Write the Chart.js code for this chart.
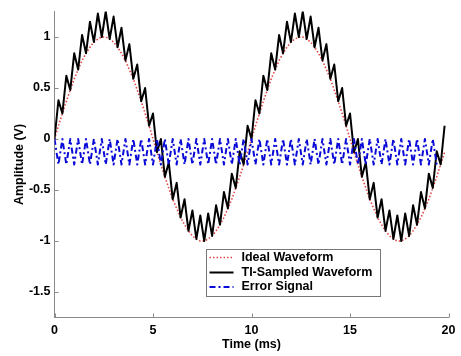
<!DOCTYPE html>
<html>
<head>
<meta charset="utf-8">
<script src="https://cdn.jsdelivr.net/npm/chart.js@4.4.1/dist/chart.umd.min.js"></script>
<style>
html,body{margin:0;padding:0;background:#fff;}
#c{display:block;}
</style>
</head>
<body>
<canvas id="c" width="461" height="356"></canvas>
<script>
// ---- data ----
const times = [0,0.2,0.4,0.6,0.8,1,1.2,1.4,1.6,1.8,2,2.2,2.4,2.6,2.8,3,3.2,3.4,3.6,3.8,4,4.2,4.4,4.6,4.8,5,5.2,5.4,5.6,5.8,6,6.2,6.4,6.6,6.8,7,7.2,7.4,7.6,7.8,8,8.2,8.4,8.6,8.8,9,9.2,9.4,9.6,9.8,
10,10.2,10.4,10.6,10.8,11,11.2,11.4,11.6,11.8,12,12.2,12.4,12.6,12.8,13,13.2,13.4,13.6,13.8,14,14.2,14.4,14.6,14.8,15,15.2,15.4,15.6,15.8,16,16.2,16.4,16.6,16.8,17,17.2,17.4,17.6,17.8,18,18.2,18.4,18.6,18.8,19,19.2,19.4,19.6,19.8];

const idealWave = [0,0.13,0.25,0.37,0.48,0.59,0.68,0.77,0.84,0.9,0.95,0.98,1,1,0.98,0.95,0.9,0.84,0.77,0.68,0.59,0.48,0.37,0.25,0.13,0,-0.13,-0.25,-0.37,-0.48,-0.59,-0.68,-0.77,-0.84,-0.9,-0.95,-0.98,-1,-1,-0.98,-0.95,-0.9,-0.84,-0.77,-0.68,-0.59,-0.48,-0.37,-0.25,-0.13,
0,0.13,0.25,0.37,0.48,0.59,0.68,0.77,0.84,0.9,0.95,0.98,1,1,0.98,0.95,0.9,0.84,0.77,0.68,0.59,0.48,0.37,0.25,0.13,0,-0.13,-0.25,-0.37,-0.48,-0.59,-0.68,-0.77,-0.84,-0.9,-0.95,-0.98,-1,-1,-0.98,-0.95,-0.9,-0.84,-0.77,-0.68,-0.59,-0.48,-0.37,-0.25,-0.13];

const tiSampled = [0,0.38,0.25,0.62,0.48,0.84,0.68,1.02,0.84,1.15,0.95,1.23,1,1.25,0.98,1.2,0.9,1.09,0.77,0.93,0.59,0.73,0.37,0.5,0.13,0.25,-0.13,0,-0.37,-0.23,-0.59,-0.43,-0.77,-0.59,-0.9,-0.7,-0.98,-0.75,-1,-0.73,-0.95,-0.65,-0.84,-0.52,-0.68,-0.34,-0.48,-0.12,-0.25,0.13,
0,0.38,0.25,0.62,0.48,0.84,0.68,1.02,0.84,1.15,0.95,1.23,1,1.25,0.98,1.2,0.9,1.09,0.77,0.93,0.59,0.73,0.37,0.5,0.13,0.25,-0.13,0,-0.37,-0.23,-0.59,-0.43,-0.77,-0.59,-0.9,-0.7,-0.98,-0.75,-1,-0.73,-0.95,-0.65,-0.84,-0.52,-0.68,-0.34,-0.48,-0.12,-0.25,0.13];

const errorSignal = [0,-0.25,0,-0.25,0,-0.25,0,-0.25,0,-0.25,0,-0.25,0,-0.25,0,-0.25,0,-0.25,0,-0.25,0,-0.25,0,-0.25,0,-0.25,0,-0.25,0,-0.25,0,-0.25,0,-0.25,0,-0.25,0,-0.25,0,-0.25,0,-0.25,0,-0.25,0,-0.25,0,-0.25,0,-0.25,
0,-0.25,0,-0.25,0,-0.25,0,-0.25,0,-0.25,0,-0.25,0,-0.25,0,-0.25,0,-0.25,0,-0.25,0,-0.25,0,-0.25,0,-0.25,0,-0.25,0,-0.25,0,-0.25,0,-0.25,0,-0.25,0,-0.25,0,-0.25,0,-0.25,0,-0.25,0,-0.25,0,-0.25];

const xTicks = [0,5,10,15,20];
const yTicks = [-1.5,-1,-0.5,0,0.5,1];
const seriesNames = ['Ideal Waveform','TI-Sampled Waveform','Error Signal'];

// ---- styling ----
const FONT = {family:'"Liberation Sans", Arial, sans-serif', size:12.5, weight:'bold'};
const AXIS_COLOR = '#8a8a8a';

const innerTicks = {
  id:'innerTicks',
  beforeDatasetsDraw(chart){
    const {ctx, chartArea:a, scales:{x, y}} = chart;
    ctx.save();
    ctx.strokeStyle = AXIS_COLOR;
    ctx.lineWidth = 1;
    ctx.beginPath();
    x.ticks.forEach(t => {
      const px = Math.round(x.getPixelForValue(t.value)) + 0.5;
      ctx.moveTo(px, a.bottom); ctx.lineTo(px, a.bottom - 4);
    });
    y.ticks.forEach(t => {
      const py = Math.round(y.getPixelForValue(t.value)) + 0.5;
      ctx.moveTo(a.left, py); ctx.lineTo(a.left + 4, py);
    });
    ctx.stroke();
    ctx.restore();
  }
};

const boxLegend = {
  id:'boxLegend',
  afterDraw(chart){
    const {ctx} = chart;
    const bx = 206.5, by = 249.5, bw = 174, bh = 47;
    ctx.save();
    ctx.fillStyle = '#fff';
    ctx.fillRect(bx, by, bw, bh);
    ctx.strokeStyle = '#777';
    ctx.lineWidth = 1;
    ctx.strokeRect(bx, by, bw, bh);
    const rows = [257.5, 272.5, 287];
    chart.data.datasets.forEach((ds, i) => {
      const yy = rows[i];
      ctx.save();
      ctx.strokeStyle = ds.borderColor;
      ctx.lineWidth = ds.borderWidth;
      ctx.setLineDash(ds.borderDash || []);
      ctx.beginPath();
      ctx.moveTo(209.5, yy);
      ctx.lineTo(233.5, yy);
      ctx.stroke();
      ctx.restore();
      ctx.fillStyle = '#000';
      ctx.font = 'bold 12.5px "Liberation Sans", Arial, sans-serif';
      ctx.textBaseline = 'middle';
      ctx.textAlign = 'left';
      ctx.fillText(ds.label, 241.5, yy);
    });
    ctx.restore();
  }
};

new Chart(document.getElementById('c'), {
  type:'line',
  data:{
    labels: times,
    datasets:[
      {label:seriesNames[0], data:idealWave, borderColor:'rgb(222,70,70)', borderWidth:1.6, borderDash:[1.5,2], borderJoinStyle:'round', pointRadius:0, tension:0, order:3},
      {label:seriesNames[1], data:tiSampled, borderColor:'#000', borderWidth:2, borderJoinStyle:'round', pointRadius:0, tension:0, order:2},
      {label:seriesNames[2], data:errorSignal, borderColor:'#0a0ad8', borderWidth:2, borderDash:[6,3,2,3], borderJoinStyle:'round', pointRadius:0, tension:0, order:1}
    ]
  },
  options:{
    responsive:false,
    devicePixelRatio:1,
    animation:false,
    events:[],
    layout:{padding:{left:0, right:9, top:4.6, bottom:0}},
    plugins:{legend:{display:false}, tooltip:{enabled:false}},
    scales:{
      x:{
        type:'linear', min:0, max:20,
        afterBuildTicks: s => { s.ticks = xTicks.map(v => ({value:v})); },
        afterFit: s => { s.height = 38.5; },
        grid:{display:false, drawTicks:false},
        border:{display:true, color:AXIS_COLOR, width:1},
        ticks:{font:FONT, color:'#000', padding:5.5, maxRotation:0, autoSkip:false, callback: v => String(v)},
        title:{display:true, text:'Time (ms)', font:FONT, color:'#000', padding:{top:0, bottom:4}}
      },
      y:{
        type:'linear', min:-1.75, max:1.25,
        afterBuildTicks: s => { s.ticks = yTicks.map(v => ({value:v})); },
        afterFit: s => { s.width = 54.5; },
        grid:{display:false, drawTicks:false},
        border:{display:true, color:AXIS_COLOR, width:1},
        ticks:{font:FONT, color:'#000', padding:4, autoSkip:false, callback: v => String(v)},
        title:{display:true, text:'Amplitude (V)', font:FONT, color:'#000', padding:{top:12, bottom:0}}
      }
    }
  },
  plugins:[innerTicks, boxLegend]
});
</script>
</body>
</html>
